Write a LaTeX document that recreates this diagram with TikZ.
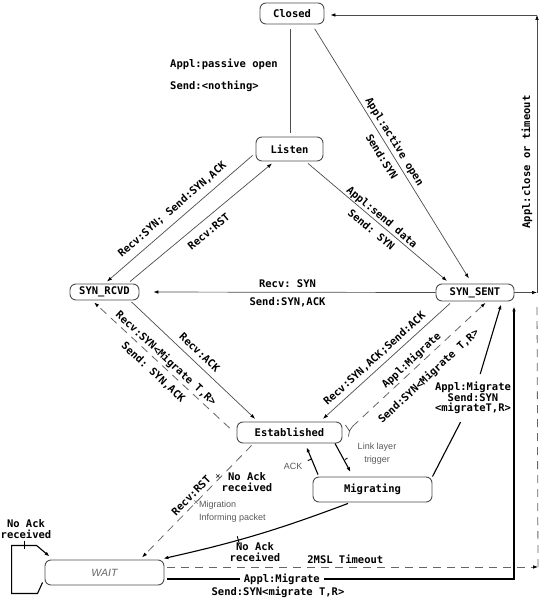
\documentclass[tikz,border=0pt]{standalone}
\usepackage{fontspec}
\setmainfont{Liberation Sans}
\setmonofont{DejaVu Sans Mono}
\usepackage{tikz}
\usetikzlibrary{positioning}
\usetikzlibrary{arrows.meta}
\usetikzlibrary{decorations.markings}

\tikzset{
stbox/.style={draw=black!70, line width=0.9pt, rounded corners=6pt, inner sep=0pt, font=\ttfamily\bfseries\fontsize{10.5}{11}\selectfont},
lbl/.style={font=\ttfamily\bfseries\fontsize{10.5}{10.5}\selectfont, inner sep=1pt, align=center},
elbl/.style={lbl, text height=8pt, text depth=2pt},
note/.style={font=\fontsize{9}{13}\selectfont, text=black!65, inner sep=0pt, align=left},
thinline/.style={draw=black!70, line width=0.7pt},
thickline/.style={draw=black, line width=1.1pt},
dashline/.style={draw=black!60, line width=0.8pt, dash pattern=on 8pt off 6pt},
tickmark/.style={postaction={decorate, decoration={markings, mark=at position #1 with {\draw[-, solid, black, line width=0.9pt] (0,-4) -- (0,4);}}}},
tickmark/.default=0.5
}

\begin{document}
\begin{tikzpicture}[x=1pt, y=-1pt, >={Latex[length=5pt,width=3.6pt,color=black]}]

\useasboundingbox (0,0) rectangle (549,601);

% states
\node[stbox, minimum width=64pt, minimum height=21pt] (closed) at (292,13.5) {Closed};
\node[stbox, minimum width=67pt, minimum height=24pt] (listen) at (289.5,149) {Listen};
\node[stbox, minimum width=69pt, minimum height=16pt] (synrcvd) at (104.5,292) {SYN\_RCVD};
\node[stbox, minimum width=78pt, minimum height=17pt] (synsent) at (475,292.5) {SYN\_SENT};
\node[stbox, minimum width=105pt, minimum height=21pt] (established) at (289.5,432.5) {Established};
\node[stbox, minimum width=119pt, minimum height=25pt] (migrating) at (372.5,489.5) {Migrating};
\node[stbox, minimum width=119pt, minimum height=25pt, font=\itshape\fontsize{10.5}{12}\selectfont, text=black!60] (wait) at (104.5,572.5) {WAIT};

\coordinate (cornertr) at (537,15);
\coordinate (cornerbr) at (537,292.5);
\coordinate (cornerdash) at (538,567);
\coordinate (cornerbm) at (514,579);

% top part
\draw[thinline, shorten <=5pt, shorten >=4pt] ([shift={(-2,0)}]closed.south) -- ([shift={(0.5,0)}]listen.north);
\node[lbl, anchor=west] (passive) at (169,64) {Appl:passive open};
\node[lbl, anchor=west] (nothing) at (169,86) {Send:<nothing>};

\draw[thinline, ->, shorten <=5pt, shorten >=6pt] ([shift={(20,0)}]closed.south) -- node[elbl, sloped, above=1.8pt, pos=0.47] (actopen) {Appl:active open} node[elbl, sloped, below=4.6pt, pos=0.49] (actsyn) {Send:SYN} ([shift={(-3,0)}]synsent.north);

\draw[thinline, ->, shorten >=4pt] ([shift={(18.5,2)}]listen.south) -- node[elbl, sloped, above=0pt, pos=0.49] (senddata) {Appl:send data} node[elbl, sloped, below=4pt, pos=0.49] (sendsyn) {Send: SYN} ([shift={(-25,0)}]synsent.north);

\draw[thinline, ->] ([shift={(-3,-6)}]listen.south west) -- node[elbl, sloped, above=5pt] (synack) {Recv:SYN; Send:SYN,ACK} ([shift={(2.5,-2)}]synrcvd.north);

\draw[thinline, ->] ([shift={(25.5,-2)}]synrcvd.north) -- node[elbl, sloped, below=6.5pt] (rst) {Recv:RST} ([shift={(-17.5,2)}]listen.south);

\draw[thinline, ->, shorten >=14pt] (synsent.west) -- node[elbl, above=1pt] (recvsyn) {Recv: SYN} node[elbl, below=4pt] (sendsynack) {Send:SYN,ACK} (synrcvd.east);

% close or timeout
\draw[thinline, ->] (synsent.east) -- (cornerbr);
\draw[thinline, ->] (cornerbr) -- (cornertr);
\draw[thinline, ->, shorten >=6pt] (cornertr) -- ([shift={(0,1.5)}]closed.east);
\node[lbl, rotate=90] (closelbl) at (527,162) {Appl:close or timeout};

% middle part
\draw[thinline, ->, shorten <=2pt, shorten >=4pt] ([shift={(25.5,0)}]synrcvd.south) -- node[elbl, sloped, above=3pt, pos=0.49] (recvack) {Recv:ACK} ([shift={(-31.5,0)}]established.north);

\draw[dashline, ->, shorten >=3pt] ([shift={(-7,-4.5)}]established.west) -- node[elbl, sloped, above=1pt] (recvmig) {Recv:SYN<Migrate T,R>} node[elbl, sloped, below=5pt] (sendsa) {Send: SYN,ACK} ([shift={(-12.5,0)}]synrcvd.south);

\draw[thinline, ->, shorten >=4pt] ([shift={(-25,2)}]synsent.south) -- node[elbl, sloped, above=3pt, pos=0.53] (synackack) {Recv:SYN,ACK;Send:ACK} ([shift={(30.5,0)}]established.north);

\draw[dashline, ->, shorten >=2pt] ([shift={(10,-6)}]established.east) -- node[elbl, sloped, above=1.5pt, pos=0.48] (applmig) {Appl:Migrate} node[elbl, sloped, below=9pt, pos=0.49] (sendmig) {Send:SYN<Migrate T,R>} ([shift={(12,0)}]synsent.south);
\draw[thinline] ([shift={(3,-7.5)}]established.east) -- ([shift={(7,-1.5)}]established.east) -- ([shift={(10,-6)}]established.east);
\draw[thinline] ([shift={(7,-1.5)}]established.east) -- ([shift={(6,4)}]established.east);

\node[lbl, inner ysep=8pt, inner xsep=0pt] (migsyn) at (473,398) {Appl:Migrate\\Send:SYN\\<migrateT,R>};
\draw[thickline] (migrating.north east) -- (migsyn);
\draw[thickline, ->, shorten >=3pt] (migsyn) -- ([shift={(27,0)}]synsent.south);

% established <-> migrating
\draw[thickline, ->, tickmark=0.5, shorten >=5pt] ([shift={(45.5,0)}]established.south) -- ([shift={(-19.5,0)}]migrating.north);
\node[note, align=center] (linktrig) at (377,454) {Link layer\\trigger};

\draw[thickline, ->, tickmark=0.5, shorten >=4pt] ([shift={(-54.5,-2)}]migrating.north) -- ([shift={(15.5,0)}]established.south);
\node[note] (ackl) at (293,466) {ACK};

% to WAIT
\draw[dashline, ->, shorten >=3pt] ([shift={(15,2)}]established.south west) -- node[elbl, sloped, above=1pt, pos=0.49] (recvrst) {Recv:RST} ([shift={(35.5,0)}]wait.north);
\node[note, text=black] (xone) at (218,477) {×};
\node[lbl] (noackone) at (247,482) {No Ack\\received};
\node[note] (xtwo) at (196,503) {×};
\node[note, anchor=west] (miginf) at (199,511.5) {Migration\\Informing packet};

\draw[thickline, ->, tickmark=0.6] ([shift={(-24.5,1)}]migrating.south) to[bend left=4] ([shift={(-1,-1)}]wait.north east);
\node[lbl] (noacktwo) at (255,552) {No Ack\\received};

\draw[thickline, ->, tickmark=0.77] ([shift={(-2,-3)}]wait.south west) --++(-5,11) --++(-26,0) --++(0,-48) --++(25,0) --++(13,11);
\node[lbl] (noackthree) at (26,529) {No Ack\\received};

% bottom part
\draw[dashline, ->] ([shift={(3,-5.5)}]wait.east) -- node[elbl, above=0pt, pos=0.48] (msl) {2MSL Timeout} (cornerdash);
\draw[dashline] (cornerdash) -- ([shift={(0,10)}]cornerbr);

\draw[thickline, ->, shorten >=5pt] ([shift={(3,6.5)}]wait.east) -- node[lbl, fill=white, inner xsep=4pt, pos=0.33] (bmig) {Appl:Migrate} (cornerbm) -- ([shift={(39,0)}]synsent.south);
\node[lbl] (bsend) at (278,592) {Send:SYN<migrate T,R>};

\end{tikzpicture}
\end{document}
